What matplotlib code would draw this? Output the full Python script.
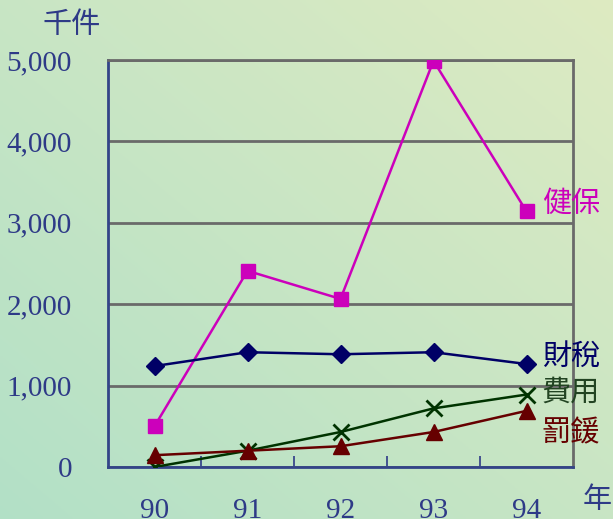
import matplotlib
matplotlib.use("Agg")
import matplotlib.pyplot as plt
import numpy as np

# data (千件)
years = ["90", "91", "92", "93", "94"]
health = [500, 2410, 2065, 4990, 3140]     # 健保
tax = [1240, 1410, 1385, 1410, 1265]       # 財稅
fees = [0, 200, 430, 720, 890]             # 費用
fines = [145, 200, 255, 430, 690]          # 罰鍰

cjk = ["Noto Sans CJK TC", "DejaVu Sans"]
serif = ["Liberation Serif", "DejaVu Serif"]
txt = "#2E3A87"

fig = plt.figure(figsize=(6.13, 5.19), dpi=100)

# gradient background
bg = fig.add_axes([0, 0, 1, 1], zorder=-1)
yy, xx = np.mgrid[0:1:200j, 0:1:200j]
t = np.clip(0.5 * (xx + yy), 0, 1)  # 0 bottom-left, 1 top-right
c0 = np.array([0.70, 0.88, 0.78])
c1 = np.array([0.87, 0.92, 0.76])
img = c0[None, None, :] * (1 - t[..., None]) + c1[None, None, :] * t[..., None]
bg.imshow(img, origin="lower", extent=[0, 1, 0, 1], aspect="auto")
bg.axis("off")

ax = fig.add_axes([108 / 613, 1 - 467 / 519, 465 / 613, 407 / 519])
ax.patch.set_alpha(0)
x = np.arange(len(years))

ax.plot(x, health, color="#CC00BB", lw=1.8, marker="s", ms=10, zorder=3)
ax.plot(x, tax, color="#000066", lw=1.8, marker="D", ms=9, zorder=3)
ax.plot(x, fees, color="#003300", lw=1.8, marker="x", ms=12, mew=2, zorder=3)
ax.plot(x, fines, color="#660000", lw=1.8, marker="^", ms=12, zorder=3)

ax.set_xlim(-0.5, 4.5)
ax.set_ylim(0, 5000)
ax.set_yticks(range(0, 5001, 1000))
ax.set_yticklabels([f"{v:,}" for v in range(0, 5001, 1000)],
                   family=serif, fontsize=21, color=txt)
ax.yaxis.grid(True, color="#6A6A6A", lw=2)
ax.set_axisbelow(True)

ax.set_xticks(x)
ax.set_xticklabels(years, family=serif, fontsize=21, color=txt)
ax.set_xticks(np.arange(0.5, 4, 1), minor=True)
ax.tick_params(axis="x", which="major", length=0, pad=22)
ax.tick_params(axis="x", which="minor", direction="in", length=8, color=txt, width=1.2)
ax.tick_params(axis="y", length=0, pad=26)

for s in ["left", "bottom"]:
    ax.spines[s].set_color("#334488")
    ax.spines[s].set_linewidth(2)
for s in ["top", "right"]:
    ax.spines[s].set_color("#6A6A6A")
    ax.spines[s].set_linewidth(2)

# unit labels
fig.text(72 / 613, 1 - 25 / 519, "千件", family=cjk, fontsize=21, color=txt,
         ha="center", va="center")
fig.text(597 / 613, 1 - 500 / 519, "年", family=cjk, fontsize=21, color=txt,
         ha="center", va="center")

# series labels
labels = [("健保", "#CC00BB"), ("財稅", "#000066"),
          ("費用", "#224422"), ("罰鍰", "#660000")]
ypix = [204, 357, 393, 433]
for (name, col), yp in zip(labels, ypix):
    fig.text(571 / 613, 1 - yp / 519, name, family=cjk, fontsize=21, color=col,
             ha="center", va="center")

fig.savefig("out.png", dpi=100)
